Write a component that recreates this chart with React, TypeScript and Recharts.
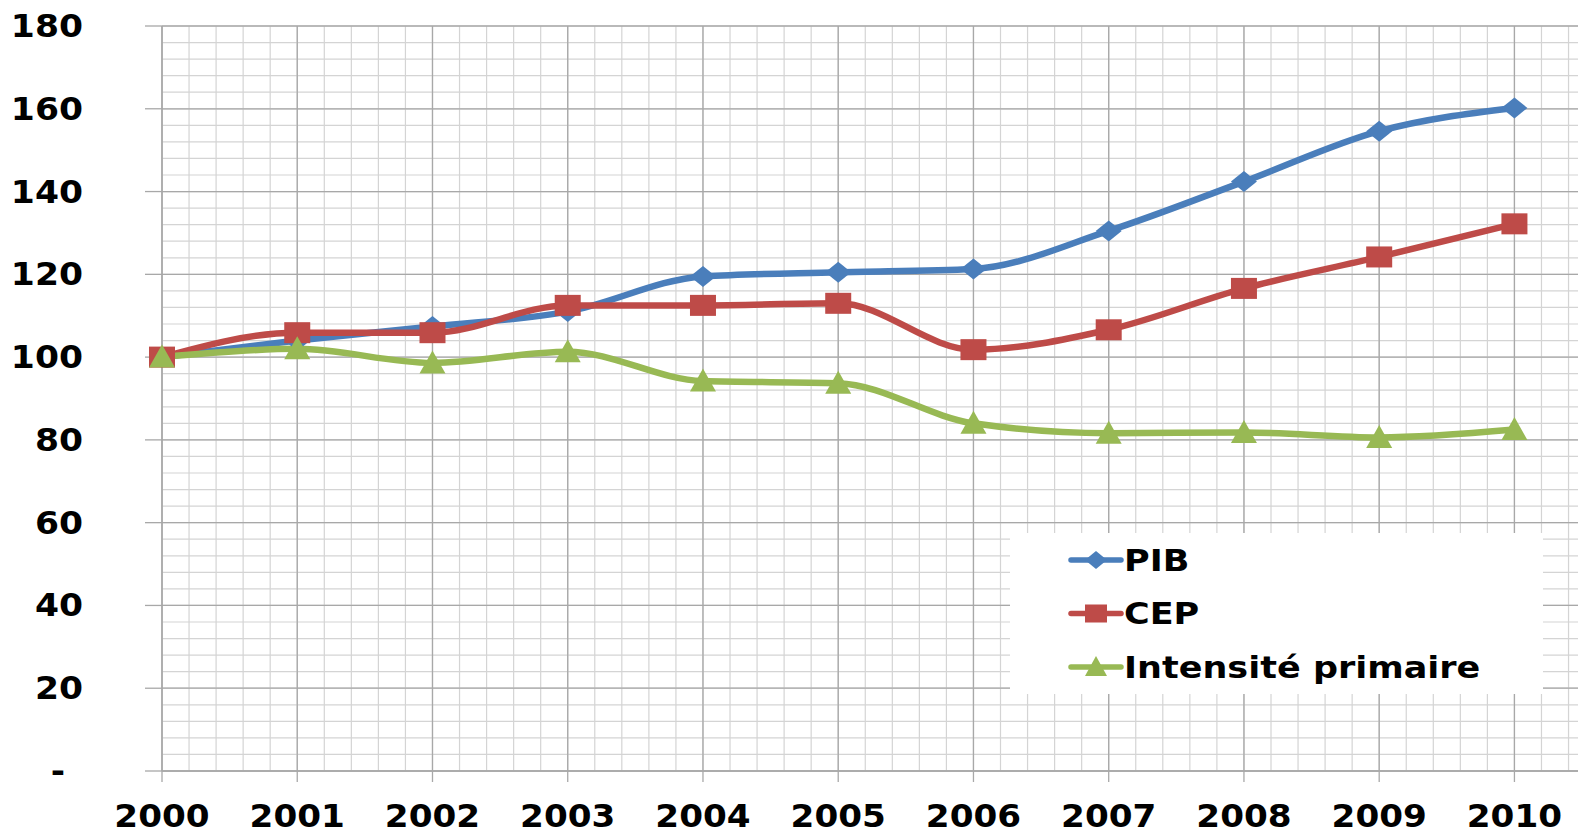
import React from 'react';
import { LineChart, Line, XAxis, YAxis, CartesianGrid } from 'recharts';

const years = [2000, 2001, 2002, 2003, 2004, 2005, 2006, 2007, 2008, 2009, 2010];
const pib = [100, 104, 107.4, 111, 119.5, 120.5, 121.3, 130.5, 142.4, 154.6, 160.2];
const cep = [100, 105.9, 105.9, 112.5, 112.5, 113, 101.8, 106.6, 116.6, 124.2, 132.2];
const intensite = [100, 102, 98.6, 101.3, 94.2, 93.7, 84, 81.6, 81.8, 80.6, 82.5];
const yTicks = [0, 20, 40, 60, 80, 100, 120, 140, 160, 180];

const seriesInfo = [
  { key: 'pib', name: 'PIB', color: '#4A7EBB', shape: 'diamond' },
  { key: 'cep', name: 'CEP', color: '#BE4B48', shape: 'square' },
  { key: 'intensite', name: 'Intensité primaire', color: '#98B954', shape: 'triangle' },
];

const data = years.map((y, i) => ({ year: y, pib: pib[i], cep: cep[i], intensite: intensite[i] }));

const FONT = '"DejaVu Sans", Verdana, sans-serif';
const Y_MAX = 180;
const X_MIN = 2000;
const X_MAX = 2010.47;

// minor grid: every 4 units / every 0.2 year
const minorY: number[] = [];
for (let v = 0; v <= Y_MAX; v += 4) minorY.push(v);
const minorX: number[] = [];
for (let k = 0; k <= 52; k++) minorX.push(X_MIN + k * 0.2);

const toY = (offset: any, v: number) => offset.top + offset.height * (1 - v / Y_MAX);
const toX = (offset: any, v: number) => offset.left + offset.width * (v - X_MIN) / (X_MAX - X_MIN);

// the original text is a bit stretched sideways
const WideText = ({ x, y, anchor = 'start', size = 32, sx = 1.08, children }: any) => (
  <g transform={`translate(${x},${y}) scale(${sx},1)`}>
    <text x={0} y={0} textAnchor={anchor} dominantBaseline="central"
      fontFamily={FONT} fontWeight="bold" fontSize={size} fill="#000">{children}</text>
  </g>
);

const Marker = ({ cx, cy, shape, color, w = 13, h = 10.5 }: any) => {
  if (cx == null || cy == null) return null;
  if (shape === 'diamond') {
    return <polygon points={`${cx - w},${cy} ${cx},${cy - h} ${cx + w},${cy} ${cx},${cy + h}`} fill={color} />;
  }
  if (shape === 'square') {
    return <rect x={cx - w} y={cy - h} width={w * 2} height={h * 2} fill={color} />;
  }
  return <polygon points={`${cx - w},${cy + h} ${cx},${cy - h - 2} ${cx + w},${cy + h}`} fill={color} />;
};

const YTick = ({ y, payload }: any) => (
  <WideText x={payload.value === 0 ? 65 : 83} y={y} anchor="end">
    {payload.value === 0 ? '-' : payload.value}
  </WideText>
);

const XTick = ({ x, payload }: any) => (
  <WideText x={x} y={816} anchor="middle" sx={1.07}>{payload.value}</WideText>
);

const LegendBox = () => (
  <svg width={533} height={161}
    style={{ position: 'absolute', left: 1010, top: 533, background: '#fff' }}>
    {seriesInfo.map((s, i) => {
      const cy = 27 + i * 53.5;
      return (
        <g key={s.key}>
          <line x1={61} x2={111} y1={cy} y2={cy} stroke={s.color} strokeWidth={5.5} strokeLinecap="round" />
          <Marker cx={86} cy={cy} shape={s.shape} color={s.color} w={11} h={9} />
          <WideText x={114} y={cy} size={31} sx={1.13}>{s.name}</WideText>
        </g>
      );
    })}
  </svg>
);

export default function App() {
  return (
    <div style={{ position: 'absolute', left: 0, top: 0, width: 1580, height: 835, background: '#fff' }}>
      <LineChart width={1580} height={835} data={data}
        margin={{ top: 26, right: 2, bottom: 0, left: 0 }}>
        <CartesianGrid stroke="#d4d4d4" strokeWidth={1.2}
          horizontalCoordinatesGenerator={({ offset }: any) => minorY.map((v) => toY(offset, v))}
          verticalCoordinatesGenerator={({ offset }: any) => minorX.map((v) => toX(offset, v))} />
        <CartesianGrid stroke="#a8a8a8" strokeWidth={1.3}
          horizontalCoordinatesGenerator={({ offset }: any) => yTicks.map((v) => toY(offset, v))}
          verticalCoordinatesGenerator={({ offset }: any) => years.map((v) => toX(offset, v))} />
        <XAxis dataKey="year" type="number" domain={[X_MIN, X_MAX]} ticks={years}
          height={64} tickSize={11} tickLine={{ stroke: '#a8a8a8', strokeWidth: 1.3 }}
          axisLine={{ stroke: '#a8a8a8', strokeWidth: 1.3 }} tick={<XTick />} interval={0} />
        <YAxis type="number" domain={[0, Y_MAX]} ticks={yTicks} width={162}
          tickSize={17} tickLine={{ stroke: '#a8a8a8', strokeWidth: 1.3 }}
          axisLine={{ stroke: '#a8a8a8', strokeWidth: 1.3 }} tick={<YTick />} interval={0} />
        {seriesInfo.map((s) => (
          <Line key={s.key} type="monotone" dataKey={s.key} name={s.name} stroke={s.color}
            strokeWidth={6.5} isAnimationActive={false}
            dot={(p: any) => <Marker key={`${s.key}-${p.index}`} cx={p.cx} cy={p.cy} shape={s.shape} color={s.color} />}
            activeDot={false} />
        ))}
      </LineChart>
      <LegendBox />
    </div>
  );
}
